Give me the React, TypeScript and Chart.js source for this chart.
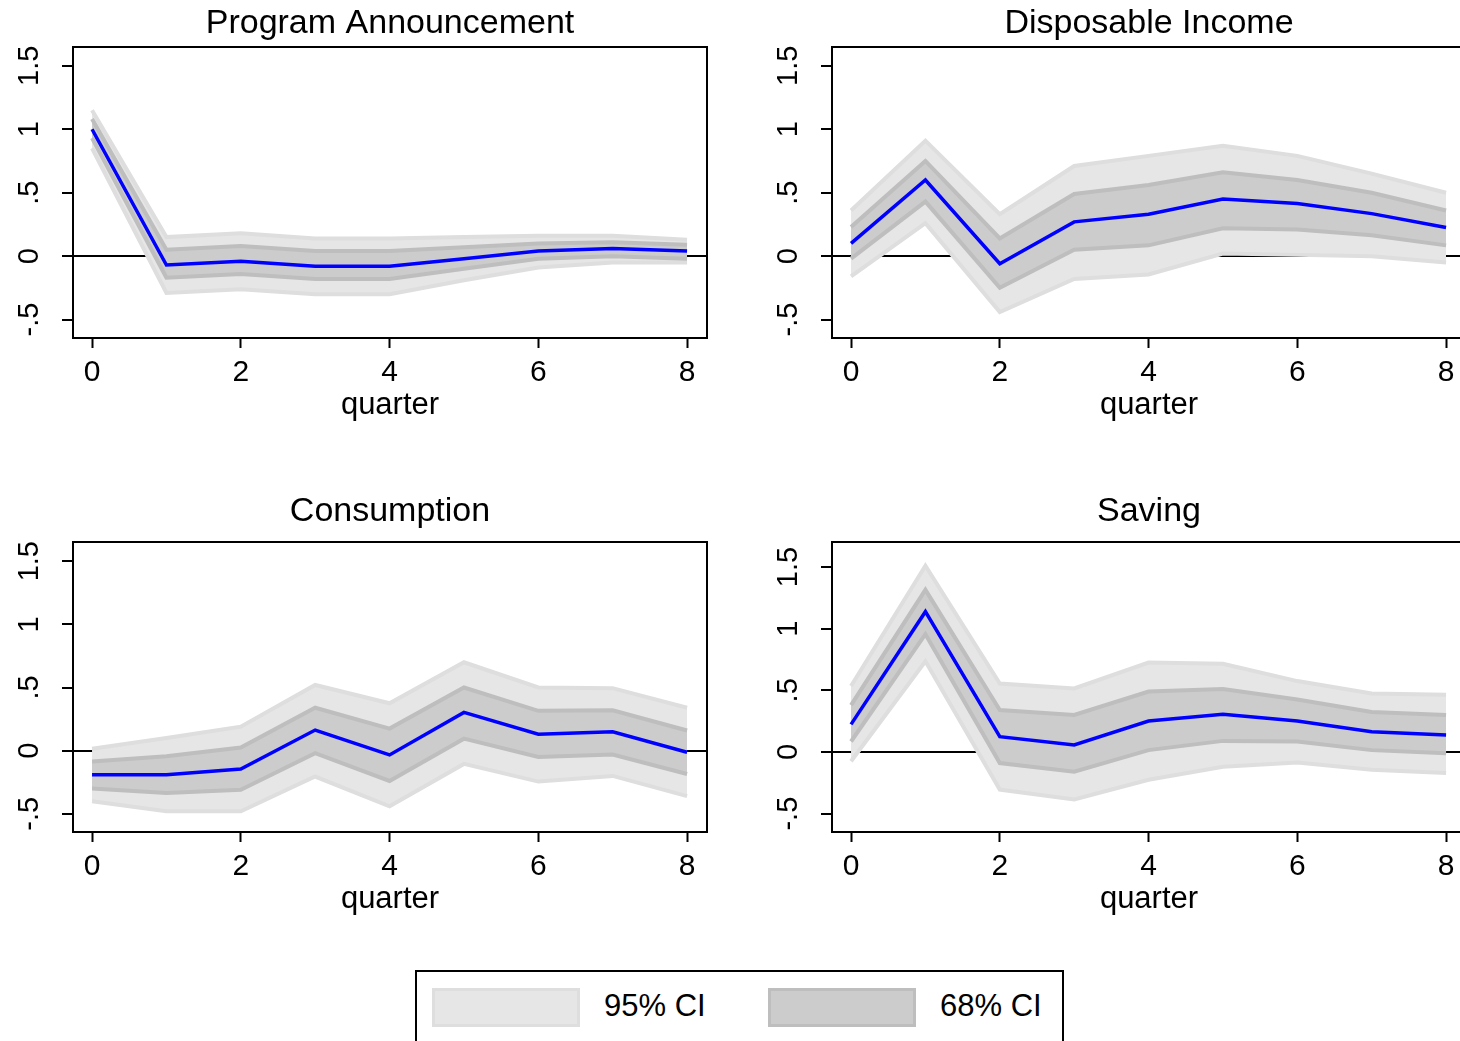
import React, { useEffect, useRef } from "react";
import { Chart, registerables } from "chart.js";

Chart.register(...registerables);

const FONT = '"Liberation Sans", Arial, Helvetica, sans-serif';

// ---------- data ----------
const quarters = [0, 1, 2, 3, 4, 5, 6, 7, 8];
const xTickValues = [0, 2, 4, 6, 8];
const yTickValues = [-0.5, 0, 0.5, 1, 1.5];
const yTickLabels = ["-.5", "0", ".5", "1", "1.5"];
const xAxisTitle = "quarter";
const legendLabels = ["95% CI", "68% CI"];

// Program Announcement
const progIrf = [1.0, -0.07, -0.04, -0.08, -0.08, -0.02, 0.04, 0.06, 0.04];
const progHi68 = [1.08, 0.05, 0.08, 0.04, 0.04, 0.07, 0.1, 0.11, 0.09];
const progLo68 = [0.93, -0.17, -0.14, -0.18, -0.18, -0.1, -0.02, 0.0, -0.02];
const progHi95 = [1.15, 0.15, 0.18, 0.14, 0.14, 0.15, 0.16, 0.16, 0.13];
const progLo95 = [0.85, -0.29, -0.26, -0.3, -0.3, -0.19, -0.09, -0.05, -0.05];

// Disposable Income
const incIrf = [0.1, 0.6, -0.06, 0.27, 0.33, 0.45, 0.415, 0.335, 0.225];
const incHi68 = [0.23, 0.75, 0.14, 0.49, 0.56, 0.66, 0.6, 0.5, 0.36];
const incLo68 = [-0.02, 0.43, -0.25, 0.05, 0.085, 0.22, 0.21, 0.165, 0.085];
const incHi95 = [0.36, 0.91, 0.33, 0.71, 0.79, 0.87, 0.79, 0.65, 0.5];
const incLo95 = [-0.16, 0.26, -0.44, -0.18, -0.145, 0.02, 0.01, 0.0, -0.05];

// Consumption
const conIrf = [-0.19, -0.19, -0.145, 0.163, -0.034, 0.303, 0.13, 0.15, -0.013];
const conHi68 = [-0.085, -0.045, 0.025, 0.34, 0.175, 0.5, 0.315, 0.32, 0.16];
const conLo68 = [-0.3, -0.335, -0.31, -0.02, -0.24, 0.095, -0.05, -0.03, -0.185];
const conHi95 = [0.015, 0.1, 0.19, 0.52, 0.375, 0.7, 0.5, 0.495, 0.34];
const conLo95 = [-0.4, -0.48, -0.48, -0.205, -0.44, -0.105, -0.245, -0.2, -0.36];

// Saving
const savIrf = [0.224, 1.138, 0.124, 0.057, 0.251, 0.305, 0.251, 0.165, 0.138];
const savHi68 = [0.38, 1.315, 0.34, 0.3, 0.49, 0.51, 0.425, 0.325, 0.3];
const savLo68 = [0.085, 0.955, -0.09, -0.16, 0.015, 0.09, 0.085, 0.015, -0.01];
const savHi95 = [0.535, 1.51, 0.555, 0.515, 0.725, 0.715, 0.575, 0.475, 0.465];
const savLo95 = [-0.075, 0.735, -0.305, -0.385, -0.225, -0.12, -0.085, -0.145, -0.17];

// ---------- layout / style ----------
const X_MIN = -0.256;
const X_MAX = 8.268;
const Y_AXIS_W = 73;
const X_AXIS_H = 92;
const CANVAS_W = 780;

const COLOR_95_FILL = "#e6e6e6";
const COLOR_95_LINE = "#dedede";
const COLOR_68_FILL = "#cccccc";
const COLOR_68_LINE = "#bebebe";
const COLOR_IRF = "#0000ff";

type PanelSpec = {
  title: string;
  irf: number[];
  hi68: number[];
  lo68: number[];
  hi95: number[];
  lo95: number[];
  yMin: number;
  yMax: number;
  left: number;
  top: number;
  height: number;
  titlePadBottom: number;
};

const panels: PanelSpec[] = [
  { title: "Program Announcement", irf: progIrf, hi68: progHi68, lo68: progLo68, hi95: progHi95, lo95: progLo95,
    yMin: -0.645, yMax: 1.648, left: 0, top: 0, height: 430, titlePadBottom: 3.2 },
  { title: "Disposable Income", irf: incIrf, hi68: incHi68, lo68: incLo68, hi95: incHi95, lo95: incLo95,
    yMin: -0.645, yMax: 1.648, left: 759, top: 0, height: 430, titlePadBottom: 3.2 },
  { title: "Consumption", irf: conIrf, hi68: conHi68, lo68: conLo68, hi95: conHi95, lo95: conLo95,
    yMin: -0.644, yMax: 1.652, left: 0, top: 488, height: 436, titlePadBottom: 10.2 },
  { title: "Saving", irf: savIrf, hi68: savHi68, lo68: savLo68, hi95: savHi95, lo95: savLo95,
    yMin: -0.649, yMax: 1.703, left: 759, top: 488, height: 436, titlePadBottom: 10.2 },
];

const framePlugin = {
  id: "frame",
  afterDraw(chart: any) {
    const { ctx, chartArea: a } = chart;
    ctx.save();
    ctx.strokeStyle = "#000";
    ctx.lineWidth = 2;
    ctx.strokeRect(a.left, a.top, a.right - a.left, a.bottom - a.top);
    ctx.restore();
  },
};

function IrfPanel({ p }: { p: PanelSpec }) {
  const ref = useRef<HTMLCanvasElement | null>(null);
  useEffect(() => {
    const canvas = ref.current;
    if (!canvas) return;
    const pts = (arr: number[]) => arr.map((y, i) => ({ x: quarters[i], y }));
    const common = { pointRadius: 0, tension: 0, xAxisID: "x", yAxisID: "y" };
    const chart = new Chart(canvas, {
      type: "line",
      data: {
        datasets: [
          { ...common, label: "IRF", data: pts(p.irf), borderColor: COLOR_IRF, borderWidth: 3.5, fill: false },
          { ...common, label: "68% upper", data: pts(p.hi68), borderColor: COLOR_68_LINE, borderWidth: 4, backgroundColor: COLOR_68_FILL, fill: "+1" },
          { ...common, label: "68% lower", data: pts(p.lo68), borderColor: COLOR_68_LINE, borderWidth: 4, fill: false },
          { ...common, label: "95% upper", data: pts(p.hi95), borderColor: COLOR_95_LINE, borderWidth: 4, backgroundColor: COLOR_95_FILL, fill: "+1" },
          { ...common, label: "95% lower", data: pts(p.lo95), borderColor: COLOR_95_LINE, borderWidth: 4, fill: false },
        ],
      },
      options: {
        responsive: false,
        animation: false,
        events: [],
        layout: { padding: 0 },
        plugins: {
          legend: { display: false },
          tooltip: { enabled: false },
          filler: { drawTime: "beforeDatasetsDraw", propagate: false },
          title: {
            display: true,
            text: p.title,
            color: "#000",
            font: { family: FONT, size: 34, weight: "normal", lineHeight: 1.2 },
            padding: { top: 3, bottom: p.titlePadBottom },
          },
        },
        scales: {
          x: {
            type: "linear",
            position: "bottom",
            min: X_MIN,
            max: X_MAX,
            afterBuildTicks: (s: any) => { s.ticks = xTickValues.map((v) => ({ value: v })); },
            afterFit: (s: any) => { s.height = X_AXIS_H; },
            ticks: { color: "#000", font: { family: FONT, size: 30 }, padding: 7, maxRotation: 0, minRotation: 0, autoSkip: false },
            grid: { drawOnChartArea: false, drawTicks: true, tickLength: 10, tickColor: "#000", tickWidth: 2, color: "#000" },
            border: { display: false },
            title: { display: true, text: xAxisTitle, color: "#000", font: { family: FONT, size: 31 }, padding: { top: 0, bottom: 6 } },
          },
          y: {
            type: "linear",
            position: "left",
            min: p.yMin,
            max: p.yMax,
            afterBuildTicks: (s: any) => { s.ticks = yTickValues.map((v) => ({ value: v })); },
            afterFit: (s: any) => { s.width = Y_AXIS_W; },
            ticks: {
              color: "#000",
              font: { family: FONT, size: 29 },
              padding: 12,
              minRotation: 90,
              maxRotation: 90,
              crossAlign: "center",
              autoSkip: false,
              callback: (v: any) => {
                const i = yTickValues.indexOf(Number(v));
                return i >= 0 ? yTickLabels[i] : "";
              },
            },
            grid: {
              drawOnChartArea: true,
              color: (ctx: any) => (ctx.tick && ctx.tick.value === 0 ? "#000" : "rgba(0,0,0,0)"),
              lineWidth: 2,
              tickColor: "#000",
              tickWidth: 2,
              tickLength: 11,
            },
            border: { display: false },
          },
          pad: {
            type: "linear",
            position: "right",
            display: true,
            ticks: { display: false },
            grid: { display: false },
            border: { display: false },
            afterFit: (s: any) => { s.width = Y_AXIS_W; },
          },
        },
      } as any,
      plugins: [framePlugin],
    });
    return () => chart.destroy();
  }, [p]);
  return (
    <canvas
      ref={ref}
      width={CANVAS_W}
      height={p.height}
      style={{ position: "absolute", left: p.left, top: p.top, width: CANVAS_W, height: p.height, display: "block" }}
    />
  );
}

export default function App() {
  const textStyle: React.CSSProperties = {
    position: "absolute",
    top: 988,
    fontFamily: FONT,
    fontSize: 31,
    lineHeight: "36px",
    color: "#000",
    whiteSpace: "nowrap",
  };
  return (
    <div style={{ position: "fixed", left: 0, top: 0, width: 1460, height: 1041, overflow: "hidden", background: "#fff" }}>
      {panels.map((p) => (
        <IrfPanel key={p.title} p={p} />
      ))}
      <div style={{ position: "absolute", left: 415, top: 970, width: 649, height: 100, border: "2px solid #000", boxSizing: "border-box" }} />
      <div style={{ position: "absolute", left: 432, top: 988, width: 148, height: 39, background: COLOR_95_FILL, border: `3px solid ${COLOR_95_LINE}`, boxSizing: "border-box" }} />
      <div style={{ ...textStyle, left: 604 }}>{legendLabels[0]}</div>
      <div style={{ position: "absolute", left: 768, top: 988, width: 148, height: 39, background: COLOR_68_FILL, border: `3px solid ${COLOR_68_LINE}`, boxSizing: "border-box" }} />
      <div style={{ ...textStyle, left: 940 }}>{legendLabels[1]}</div>
    </div>
  );
}
